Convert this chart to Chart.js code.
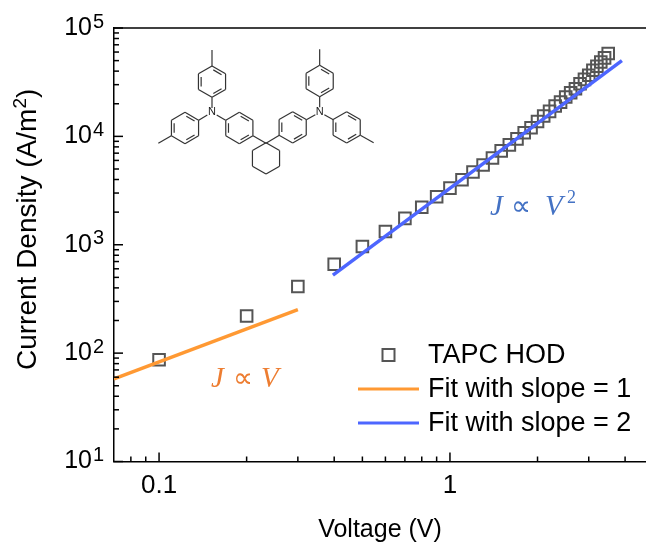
<!DOCTYPE html>
<html>
<head>
<meta charset="utf-8">
<title>TAPC HOD</title>
<script src="https://cdn.jsdelivr.net/npm/chart.js@4"></script>
<style>
  html, body { margin: 0; padding: 0; background: #fff; }
  canvas { display: block; }
</style>
</head>
<body>
<canvas id="chart" width="646" height="545"></canvas>
<script>
const voltage = [0.1, 0.2, 0.3, 0.4, 0.5, 0.6, 0.7, 0.8, 0.9, 1.0,
  1.1, 1.2, 1.3, 1.4, 1.5, 1.6, 1.7, 1.8, 1.9, 2.0,
  2.1, 2.2, 2.3, 2.4, 2.5, 2.6, 2.7, 2.8, 2.9, 3.0,
  3.1, 3.2, 3.3, 3.4, 3.5];
const currentDensity = [87, 220, 412, 660, 962, 1325, 1750, 2220, 2770, 3330,
  3980, 4690, 5450, 6310, 7350, 8340, 9480, 10800, 12000, 13700,
  15400, 17000, 19050, 20700, 23100, 25300, 27500, 30600, 33600, 36600,
  40700, 44300, 48600, 53000, 58100];
const fitOneV = [0.07, 0.3];
const fitOneJ = [58, 252];
const fitTwoV = [0.396, 3.9];
const fitTwoJ = [525, 50000];

const xMajorTicks = [0.1, 1];
const xMinorTicks = [0.08, 0.09, 0.2, 0.3, 0.4, 0.5, 0.6, 0.7, 0.8, 0.9, 2, 3, 4];
const yMajorTicks = [10, 100, 1000, 10000, 100000];
const yMinorTicks = [20, 30, 40, 50, 60, 70, 80, 90,
  200, 300, 400, 500, 600, 700, 800, 900,
  2000, 3000, 4000, 5000, 6000, 7000, 8000, 9000,
  20000, 30000, 40000, 50000, 60000, 70000, 80000, 90000];
const yExponents = ["1", "2", "3", "4", "5"];

const SANS = "'Liberation Sans', Arial, sans-serif";
const SERIF = "'Liberation Serif', serif";
const AXIS_COLOR = "#000";
const MARKER_COLOR = "#555";
const ORANGE = "#ff9933";
const BLUE = "#4d66ff";

function toPoints(xs, ys) {
  return xs.map((x, i) => ({ x: x, y: ys[i] }));
}

// inward ticks, top line and the exponents of the y labels
const axisExtras = {
  id: "axisExtras",
  afterDraw(chart) {
    const ctx = chart.ctx;
    const x = chart.scales.x;
    const y = chart.scales.y;
    const area = chart.chartArea;
    const bottom = area.bottom;
    const left = area.left;

    ctx.save();
    ctx.strokeStyle = AXIS_COLOR;
    ctx.lineWidth = 1.5;

    const vTick = (v, len) => {
      const px = x.getPixelForValue(v);
      ctx.beginPath();
      ctx.moveTo(px, bottom);
      ctx.lineTo(px, bottom - len);
      ctx.stroke();
    };
    const hTick = (v, len) => {
      const py = y.getPixelForValue(v);
      ctx.beginPath();
      ctx.moveTo(left, py);
      ctx.lineTo(left + len, py);
      ctx.stroke();
    };
    xMajorTicks.forEach(v => vTick(v, 9));
    xMinorTicks.forEach(v => vTick(v, 5));
    yMajorTicks.forEach(v => hTick(v, 9));
    yMinorTicks.forEach(v => hTick(v, 5));

    ctx.beginPath();
    ctx.moveTo(left, area.top);
    ctx.lineTo(area.right, area.top);
    ctx.stroke();

    ctx.fillStyle = "#000";
    ctx.font = "20px " + SANS;
    ctx.textAlign = "left";
    ctx.textBaseline = "middle";
    yMajorTicks.forEach((v, i) => {
      ctx.fillText(yExponents[i], 93, y.getPixelForValue(v) - 6);
    });

    // y title, with a real superscript
    ctx.translate(36, 370);
    ctx.rotate(-Math.PI / 2);
    ctx.textBaseline = "alphabetic";
    ctx.font = "28px " + SANS;
    const head = "Current Density (A/m";
    ctx.fillText(head, 0, 0);
    let w = ctx.measureText(head).width;
    ctx.font = "19px " + SANS;
    ctx.fillText("2", w, -10);
    w += ctx.measureText("2").width;
    ctx.font = "28px " + SANS;
    ctx.fillText(")", w, 0);
    ctx.restore();
  }
};

// legend, placed inside the plot like the original
const insideLegend = {
  id: "insideLegend",
  afterDraw(chart) {
    const ctx = chart.ctx;
    const sets = chart.data.datasets;
    const rows = [355, 389, 423];
    ctx.save();
    ctx.font = "27px " + SANS;
    ctx.fillStyle = "#000";
    ctx.textAlign = "left";
    ctx.textBaseline = "middle";
    sets.forEach((set, i) => {
      const ry = rows[i];
      ctx.fillText(set.label, 428, ry + 1);
      ctx.strokeStyle = set.borderColor;
      if (set.showLine) {
        ctx.lineWidth = 3;
        ctx.beginPath();
        ctx.moveTo(358, ry);
        ctx.lineTo(419, ry);
        ctx.stroke();
      } else {
        ctx.lineWidth = 2;
        ctx.strokeRect(382.5, ry - 6, 12, 12);
      }
    });
    ctx.restore();
  }
};

// the J ∝ V notes
const fitNotes = {
  id: "fitNotes",
  afterDraw(chart) {
    const ctx = chart.ctx;
    ctx.save();
    ctx.textAlign = "left";
    ctx.textBaseline = "alphabetic";

    ctx.fillStyle = "#ed7d31";
    ctx.font = "italic 29px " + SERIF;
    ctx.fillText("J", 211, 387);
    ctx.fillText("V", 261, 387);
    ctx.font = "28px 'DejaVu Sans'";
    ctx.fillText("∝", 233, 387);

    ctx.fillStyle = "#4472c4";
    ctx.font = "italic 29px " + SERIF;
    ctx.fillText("J", 490, 215);
    ctx.fillText("V", 545, 215);
    ctx.font = "28px 'DejaVu Sans'";
    ctx.fillText("∝", 511, 215);
    ctx.font = "18px " + SERIF;
    ctx.fillText("2", 567, 203);
    ctx.restore();
  }
};

// molecule inset, sketched in crop units
const molecule = {
  id: "molecule",
  afterDraw(chart) {
    const ctx = chart.ctx;
    const line = (x1, y1, x2, y2) => {
      ctx.beginPath();
      ctx.moveTo(130 + x1 / 3, 20 + y1 / 3);
      ctx.lineTo(130 + x2 / 3, 20 + y2 / 3);
      ctx.stroke();
    };
    const ring = (cx, cy, aromatic) => {
      const r = 47;
      const pts = [];
      for (let i = 0; i < 6; i++) {
        const a = (-90 + 60 * i) * Math.PI / 180;
        pts.push([Math.cos(a), Math.sin(a)]);
      }
      for (let i = 0; i < 6; i++) {
        const p = pts[i];
        const q = pts[(i + 1) % 6];
        line(cx + r * p[0], cy + r * p[1], cx + r * q[0], cy + r * q[1]);
        if (aromatic && i % 2 === 0) {
          const s = r * 0.8;
          const ax = p[0] + (q[0] - p[0]) * 0.12;
          const ay = p[1] + (q[1] - p[1]) * 0.12;
          const bx = p[0] + (q[0] - p[0]) * 0.88;
          const by = p[1] + (q[1] - p[1]) * 0.88;
          line(cx + s * ax, cy + s * ay, cx + s * bx, cy + s * by);
        }
      }
    };

    ctx.save();
    ctx.strokeStyle = "#333";
    ctx.lineWidth = 1.2;
    ring(246, 185, true);
    ring(165, 324, true);
    ring(328, 324, true);
    ring(488, 322, true);
    ring(569, 183, true);
    ring(650, 322, true);
    ring(408, 415, false);

    line(246, 138, 246, 90);
    line(246, 232, 246, 264);
    line(232, 285, 206, 301);
    line(260, 285, 287, 301);
    line(124, 347, 85, 370);
    line(369, 347, 408, 370);
    line(448, 346, 408, 370);
    line(529, 299, 556, 284);
    line(569, 135, 569, 88);
    line(569, 230, 569, 262);
    line(583, 284, 610, 299);
    line(691, 346, 731, 368);

    ctx.fillStyle = "#222";
    ctx.font = "11px " + SANS;
    ctx.textAlign = "center";
    ctx.textBaseline = "middle";
    ctx.fillText("N", 130 + 246 / 3, 20 + 277 / 3);
    ctx.fillText("N", 130 + 569 / 3, 20 + 276 / 3);
    ctx.restore();
  }
};

new Chart(document.getElementById("chart"), {
  type: "scatter",
  data: {
    datasets: [
      {
        label: "TAPC HOD",
        data: toPoints(voltage, currentDensity),
        pointStyle: "rect",
        pointRadius: 8.2,
        pointBorderWidth: 2,
        borderColor: MARKER_COLOR,
        pointBorderColor: MARKER_COLOR,
        backgroundColor: "transparent",
        pointBackgroundColor: "transparent",
        showLine: false,
        order: 3
      },
      {
        label: "Fit with slope = 1",
        data: toPoints(fitOneV, fitOneJ),
        showLine: true,
        borderColor: ORANGE,
        borderWidth: 3.5,
        pointRadius: 0,
        order: 2
      },
      {
        label: "Fit with slope = 2",
        data: toPoints(fitTwoV, fitTwoJ),
        showLine: true,
        borderColor: BLUE,
        borderWidth: 3.5,
        pointRadius: 0,
        order: 1
      }
    ]
  },
  options: {
    responsive: false,
    animation: false,
    layout: { autoPadding: false, padding: { top: 28, right: 0, left: 0, bottom: 0 } },
    plugins: {
      legend: { display: false },
      tooltip: { enabled: false }
    },
    scales: {
      x: {
        type: "logarithmic",
        min: 0.07,
        max: 4.72,
        afterFit: scale => { scale.height = 83.5; },
        afterBuildTicks: scale => { scale.ticks = xMajorTicks.map(v => ({ value: v })); },
        grid: { display: false, drawTicks: false },
        border: { display: true, color: AXIS_COLOR, width: 1.5 },
        ticks: {
          color: "#000",
          font: { family: SANS, size: 26 },
          padding: 9,
          maxRotation: 0,
          autoSkip: false,
          callback: v => String(v)
        },
        title: {
          display: true,
          text: "Voltage (V)",
          color: "#000",
          font: { family: SANS, size: 25 },
          padding: { top: 10, bottom: 0 }
        }
      },
      y: {
        type: "logarithmic",
        min: 10,
        max: 100000,
        afterFit: scale => {
          scale.width = 114;
          scale.paddingTop = 0;
          scale.paddingBottom = 0;
        },
        afterBuildTicks: scale => { scale.ticks = yMajorTicks.map(v => ({ value: v })); },
        grid: { display: false, drawTicks: false },
        border: { display: true, color: AXIS_COLOR, width: 1.5 },
        ticks: {
          color: "#000",
          font: { family: SANS, size: 25 },
          padding: 22,
          autoSkip: false,
          callback: () => "10"
        }
      }
    }
  },
  plugins: [axisExtras, insideLegend, fitNotes, molecule]
});
</script>
</body>
</html>
